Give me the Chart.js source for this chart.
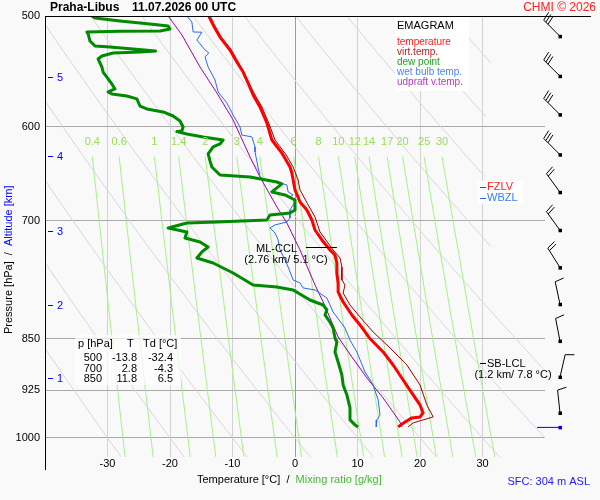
<!DOCTYPE html>
<html>
<head>
<meta charset="utf-8">
<script src="https://cdn.jsdelivr.net/npm/chart.js@4.4.0/dist/chart.umd.min.js"></script>
<style>
  body { margin: 0; background: #f9f9f9; }
  #wrap { width: 600px; height: 500px; }
</style>
</head>
<body>
<div id="wrap"><canvas id="emagram" width="600" height="500"></canvas></div>
<script>
// axis ticks
const pressureTicks = [500, 600, 700, 850, 925, 1000];
const altKm = [1, 2, 3, 4, 5];
const altP = [905.8, 804.2, 711.8, 629.0, 552.9];

// temperature
const tempP = [500, 507.4, 517.6, 528.7, 539.3, 548.2, 558.2, 569.3, 580.6, 596.1, 613.0, 626.2, 640.8, 647.1, 665.4, 678.7, 687.7, 699.1, 710.7, 722.4, 734.4, 740.5, 750.3, 762.7, 775.3, 786.9, 799.9, 817.2, 830.7, 848.7, 868.4, 887.2, 909.3, 931.9, 947.4, 959.9, 966.3, 967.8, 974.2, 982.2];
const tempT = [-13.8, -13.1, -12.0, -10.4, -9.3, -8.3, -7.5, -6.7, -5.6, -4.5, -3.7, -2.1, -0.8, -0.5, 0.0, 0.8, 1.9, 2.7, 3.2, 4.3, 5.6, 6.4, 6.7, 6.7, 6.9, 6.9, 7.7, 9.1, 10.4, 11.9, 14.1, 15.7, 17.3, 18.9, 20.0, 20.5, 20.0, 18.7, 17.6, 16.5];

// virtual temperature
const virtP = [500, 507.4, 517.6, 528.7, 539.3, 548.2, 558.2, 569.3, 580.6, 596.1, 613.0, 628.3, 640.8, 654.6, 665.4, 682.0, 695.6, 713.0, 734.4, 744.1, 755.2, 771.5, 777.9, 788.2, 803.9, 819.9, 840.4, 862.7, 887.2, 916.8, 947.4, 966.3, 971.0, 975.8, 982.2];
const virtT = [-13.6, -12.9, -11.8, -10.2, -9.1, -8.2, -7.4, -6.4, -5.3, -4.2, -3.2, -1.4, -0.3, 0.5, 0.8, 2.1, 3.2, 4.0, 6.1, 7.2, 7.5, 7.5, 8.0, 7.7, 8.8, 10.4, 12.5, 15.2, 17.9, 20.0, 21.1, 22.1, 20.5, 18.9, 18.1];

// dew point
const dewP = [500, 501.6, 504.1, 506.6, 508.3, 510.8, 512.5, 512.7, 513.3, 515.0, 521.0, 525.3, 526.1, 527.8, 529.6, 530.5, 531.3, 534.0, 536.6, 543.7, 548.2, 554.5, 559.1, 563.7, 566.5, 568.3, 570.2, 573.0, 579.7, 582.5, 585.4, 589.3, 594.1, 600.0, 604.0, 604.5, 607.0, 609.9, 613.0, 617.0, 620.0, 627.2, 634.5, 640.8, 649.3, 651.4, 656.8, 658.9, 667.6, 670.9, 676.5, 687.7, 691.1, 693.3, 699.1, 701.4, 702.5, 708.3, 713.0, 720.1, 724.8, 730.8, 736.8, 744.1, 750.3, 762.7, 777.9, 780.4, 784.3, 797.3, 803.9, 810.5, 817.2, 826.7, 834.9, 848.7, 854.3, 868.4, 882.8, 901.9, 916.8, 931.9, 952.1, 971.0, 979.0, 982.2];
const dewT = [-32.5, -32.0, -28.0, -23.2, -20.3, -20.0, -21.6, -28.0, -33.3, -33.1, -32.8, -32.0, -29.6, -25.9, -22.3, -24.8, -29.1, -30.9, -31.5, -30.9, -30.7, -29.9, -29.3, -28.8, -29.9, -29.3, -26.9, -25.3, -24.8, -23.7, -21.1, -19.5, -18.4, -17.9, -18.1, -18.9, -17.3, -14.7, -11.5, -12.0, -13.1, -13.9, -13.6, -13.3, -12.0, -7.2, -2.9, -2.1, -3.7, -1.6, 0.0, 0.0, -0.8, -4.0, -4.5, -12.5, -17.3, -20.3, -17.3, -17.6, -15.2, -13.9, -14.9, -15.7, -13.1, -9.9, -6.7, -2.9, -0.3, 2.4, 4.5, 5.1, 4.8, 5.6, 6.1, 6.4, 6.7, 6.4, 6.9, 7.5, 7.7, 8.3, 8.8, 8.8, 9.6, 10.1];

// wet bulb temperature
const wetP = [500, 505.0, 513.3, 513.5, 520.1, 528.7, 531.3, 534.8, 543.7, 555.4, 566.5, 576.8, 588.3, 600.0, 608.0, 609.9, 620.0, 625.2, 651.4, 654.6, 657.8, 660.0, 667.6, 670.9, 673.1, 678.7, 687.7, 696.8, 701.4, 704.8, 708.3, 714.2, 722.4, 734.4, 746.6, 755.2, 771.5, 775.3, 781.7, 784.3, 794.7, 813.2, 834.9, 851.8, 868.4, 897.4, 916.8, 939.6, 963.1, 971.0, 982.2];
const wetT = [-17.3, -16.5, -16.3, -14.9, -15.7, -14.4, -13.8, -14.4, -13.9, -12.8, -12.3, -10.9, -9.9, -8.8, -8.5, -6.9, -6.4, -6.4, -5.6, -4.8, -2.4, -1.3, -1.1, -0.3, -0.8, 0.0, -0.8, -0.8, -1.3, -3.2, -4.0, -3.2, -2.7, -2.4, -1.6, -1.1, -0.3, 0.8, 1.3, 3.2, 5.1, 6.1, 8.0, 8.8, 9.9, 11.2, 12.5, 13.3, 13.6, 13.1, 13.0];

// updraft virtual temperature
const updP = [500, 515.8, 543.7, 567.4, 593.1, 630.3, 651.4, 684.3, 702.5, 734.4, 777.9, 799.9, 821.2, 847.3, 875.6, 906.3, 936.6, 974.2, 982.2];
const updT = [-20.3, -18.1, -15.2, -12.5, -9.9, -7.2, -5.6, -2.9, -1.3, 0.8, 3.2, 4.5, 5.6, 6.9, 9.1, 11.5, 14.1, 16.8, 17.1];

// background guides
const mixRatios = [0.4, 0.6, 1, 1.4, 2, 3, 4, 6, 8, 10, 12, 14, 17, 20, 25, 30];
const adiabatT1000 = [-30, -20, -10, 0, 10, 20, 30, 40, 50, 60, 70, 80, 90];

// winds
const windP = [517, 552, 588, 628, 668, 711, 756, 803, 853, 905, 960, 983];
const windDir = [315, 315, 315, 315, 324, 324, 328, 348, 349, 13, 354, 270];
const windKt = [30, 30, 30, 30, 20, 20, 20, 10, 10, 10, 10, 2];

// table
const tableP = [500, 700, 850];
const tableT = [-13.8, 2.8, 11.8];
const tableTd = [-32.4, -4.3, 6.5];

const FONT = "'Liberation Sans', Arial, sans-serif";
Chart.defaults.font.family = FONT;

function pts(pArr, tArr) {
  return pArr.map((p, i) => ({ x: tArr[i], y: p }));
}

function mixLine(w) {
  const out = [];
  [630, 700, 800, 900, 1040].forEach(p => {
    const e = w * p / (622 + w);
    const l = Math.log(e / 6.112);
    out.push({ x: 243.5 * l / (17.67 - l), y: p });
  });
  return out;
}

function dryLine(t0) {
  const th = t0 + 273.15;
  const out = [];
  for (let p = 1040; p >= 490; p -= 10) {
    const t = th * Math.pow(p / 1000, 0.286) - 273.15;
    const lim = p < 900 ? 31.5 : 42;
    if (t <= lim) out.push({ x: t, y: p });
  }
  return out;
}

const datasets = [];
function line(data, color, width, order) {
  datasets.push({
    data: data, showLine: true, borderColor: color, borderWidth: width,
    pointRadius: 0, fill: false, order: order, borderJoinStyle: 'round'
  });
}

adiabatT1000.forEach(t => line(dryLine(t), '#d8d8d8', 1, 30));
mixRatios.forEach(w => line(mixLine(w), '#a8f08c', 1, 20));
line(pts(updP, updT), '#a000b0', 1, 5);
line(pts(wetP, wetT), '#2a6af0', 1, 4);
line(pts(dewP, dewT), '#008a00', 3, 3);
line(pts(virtP, virtT), '#a00000', 1, 2);
line(pts(tempP, tempT), '#ff0000', 3, 1);

function txt(ctx, s, x, y, color, font, align) {
  ctx.fillStyle = color;
  ctx.font = font;
  ctx.textAlign = align || 'left';
  ctx.textBaseline = 'middle';
  ctx.fillText(s, x, y);
}

function drawBarb(ctx, x, y, dir, kt, color) {
  const a = dir * Math.PI / 180;
  const ux = Math.sin(a), uy = -Math.cos(a);
  const len = 23;
  const tx = x + ux * len, ty = y + uy * len;
  ctx.strokeStyle = color;
  ctx.lineWidth = 1;
  ctx.beginPath();
  ctx.moveTo(x, y);
  ctx.lineTo(tx, ty);
  const bx = -uy, by = ux;
  let rest = kt, k = 0;
  while (rest >= 10) {
    const sx = tx - ux * k * 3, sy = ty - uy * k * 3;
    ctx.moveTo(sx, sy);
    ctx.lineTo(sx + bx * 9 + ux * 2, sy + by * 9 + uy * 2);
    rest -= 10; k++;
  }
  if (rest >= 5) {
    const sx = tx - ux * k * 3, sy = ty - uy * k * 3;
    ctx.moveTo(sx, sy);
    ctx.lineTo(sx + bx * 5, sy + by * 5);
  }
  ctx.stroke();
  ctx.fillStyle = color;
  ctx.fillRect(x - 1.5, y - 1.5, 3.5, 3.5);
}

const decor = {
  id: 'decor',
  beforeDraw(chart) {
    const ctx = chart.ctx;
    ctx.save();
    ctx.fillStyle = '#f9f9f9';
    ctx.fillRect(0, 0, chart.width, chart.height);
    ctx.restore();
  },
  afterDraw(chart) {
    const ctx = chart.ctx;
    const xs = chart.scales.x, ys = chart.scales.y;
    const ca = chart.chartArea;
    ctx.save();

    // frame lines
    ctx.strokeStyle = '#000';
    ctx.lineWidth = 1;
    ctx.beginPath();
    ctx.moveTo(ca.left, ca.top + 0.5);
    ctx.lineTo(591, ca.top + 0.5);
    ctx.moveTo(ca.left + 0.5, ca.top);
    ctx.lineTo(ca.left + 0.5, 470);
    ctx.stroke();

    // mixing ratio labels
    mixRatios.forEach(w => {
      const e = w * 630 / (622 + w);
      const l = Math.log(e / 6.112);
      const x = xs.getPixelForValue(243.5 * l / (17.67 - l));
      txt(ctx, String(w), x, 142, '#99dd55', '11px ' + FONT, 'center');
    });

    // altitude ticks
    altKm.forEach((k, i) => {
      const y = Math.round(ys.getPixelForValue(altP[i])) + 0.5;
      ctx.strokeStyle = '#0000ff';
      ctx.beginPath();
      ctx.moveTo(ca.left + 3, y);
      ctx.lineTo(ca.left + 8, y);
      ctx.stroke();
      txt(ctx, String(k), ca.left + 12, y, '#0000ff', '11px ' + FONT, 'left');
    });

    // title
    txt(ctx, 'Praha-Libus', 50, 8, '#000', 'bold 12px ' + FONT);
    txt(ctx, '11.07.2026 00 UTC', 132, 8, '#000', 'bold 12px ' + FONT);
    txt(ctx, 'CHMI \u00a9 2026', 596, 8, '#ff2020', '12px ' + FONT, 'right');

    // axis titles
    ctx.save();
    ctx.translate(9, 334);
    ctx.rotate(-Math.PI / 2);
    ctx.font = '11px ' + FONT;
    const part1 = 'Pressure [hPa]  /  ';
    txt(ctx, part1, 0, 0, '#000', '11px ' + FONT);
    const w1 = ctx.measureText(part1).width;
    txt(ctx, 'Altitude [km]', w1, 0, '#0000ff', '11px ' + FONT);
    ctx.restore();

    ctx.font = '11px ' + FONT;
    const xt1 = 'Temperature [\u00b0C]  /  ';
    txt(ctx, xt1, 197, 480, '#000', '11px ' + FONT);
    const wx = ctx.measureText(xt1).width;
    txt(ctx, 'Mixing ratio [g/kg]', 197 + wx, 480, '#44bb33', '11px ' + FONT);
    txt(ctx, 'SFC: 304 m ASL', 590, 482, '#2020ff', '11px ' + FONT, 'right');

    // legend box
    ctx.fillStyle = '#ffffff';
    ctx.fillRect(395, 17, 74, 74);
    txt(ctx, 'EMAGRAM', 397, 26, '#000', '11px ' + FONT);
    const legNames = ['temperature', 'virt.temp.', 'dew point', 'wet bulb temp.', 'udpraft v.temp.'];
    const legCols = ['#ff2020', '#b22222', '#22a022', '#4a86f0', '#b040c0'];
    legNames.forEach((n, i) => txt(ctx, n, 397, 42 + i * 10, legCols[i], '10px ' + FONT));

    // freezing level labels
    ctx.fillStyle = '#ffffff';
    ctx.fillRect(478, 181, 45, 23);
    ctx.strokeStyle = '#ff0000';
    ctx.beginPath(); ctx.moveTo(480, 187.5); ctx.lineTo(486, 187.5); ctx.stroke();
    txt(ctx, 'FZLV', 487, 187, '#ff2020', '11px ' + FONT);
    ctx.strokeStyle = '#2a6af0';
    ctx.beginPath(); ctx.moveTo(480, 198.5); ctx.lineTo(486, 198.5); ctx.stroke();
    txt(ctx, 'WBZL', 487, 198, '#3a7af0', '11px ' + FONT);

    // CCL
    const cy = Math.round(ys.getPixelForValue(731)) + 0.5;
    const cx = xs.getPixelForValue(5.1);
    ctx.strokeStyle = '#000';
    ctx.beginPath(); ctx.moveTo(cx - 21, cy); ctx.lineTo(cx + 10, cy); ctx.stroke();
    txt(ctx, 'ML-CCL', 297, 249, '#000', '11px ' + FONT, 'right');
    txt(ctx, '(2.76 km/ 5.1 \u00b0C)', 286, 260, '#000', '11px ' + FONT, 'center');

    // LCL
    const ly = Math.round(ys.getPixelForValue(884)) + 0.5;
    ctx.beginPath(); ctx.moveTo(480, ly); ctx.lineTo(486, ly); ctx.stroke();
    txt(ctx, 'SB-LCL', 487, ly, '#000', '11px ' + FONT);
    txt(ctx, '(1.2 km/ 7.8 \u00b0C)', 513, ly + 11, '#000', '11px ' + FONT, 'center');

    // table
    ctx.fillStyle = 'rgba(255,255,255,0.7)';
    ctx.fillRect(75, 335, 106, 50);
    txt(ctx, 'p [hPa]', 78, 344, '#000', '11px ' + FONT);
    txt(ctx, 'T', 127, 344, '#000', '11px ' + FONT);
    txt(ctx, 'Td [\u00b0C]', 143, 344, '#000', '11px ' + FONT);
    tableP.forEach((p, i) => {
      const y = 358 + i * 10.5;
      txt(ctx, String(p), 102, y, '#000', '11px ' + FONT, 'right');
      txt(ctx, tableT[i].toFixed(1), 137, y, '#000', '11px ' + FONT, 'right');
      txt(ctx, tableTd[i].toFixed(1), 173, y, '#000', '11px ' + FONT, 'right');
    });

    // wind barbs
    windP.forEach((p, i) => {
      const y = ys.getPixelForValue(p);
      const sfc = i === windP.length - 1;
      drawBarb(ctx, 560, y, windDir[i], windKt[i], sfc ? '#0000ff' : '#000');
    });

    ctx.restore();
  }
};

new Chart(document.getElementById('emagram'), {
  type: 'scatter',
  data: { datasets: datasets },
  options: {
    responsive: false,
    animation: false,
    devicePixelRatio: 1,
    layout: { padding: { top: 16, right: 55, left: 0, bottom: 0 } },
    plugins: { legend: { display: false }, tooltip: { enabled: false } },
    scales: {
      x: {
        type: 'linear', min: -40, max: 40,
        afterFit(s) { s.height = 43; },
        ticks: {
          stepSize: 10, padding: 0, color: '#000', font: { size: 11 },
          callback: v => (v === -40 || v === 40) ? '' : v
        },
        grid: {
          drawTicks: false,
          color: c => {
            const v = c.tick ? c.tick.value : null;
            if (v === -40 || v === 40) return 'rgba(0,0,0,0)';
            return v === 0 ? '#9a9a9a' : '#d2d2d2';
          }
        },
        border: { display: false }
      },
      y: {
        type: 'logarithmic', reverse: true, min: 500, max: 1032,
        afterFit(s) { s.width = 45; },
        afterBuildTicks(s) { s.ticks = pressureTicks.map(v => ({ value: v })); },
        ticks: { padding: 5, color: '#000', font: { size: 11 }, autoSkip: false, callback: v => String(v) },
        grid: { drawTicks: false, color: '#a9a9a9' },
        border: { display: false }
      }
    }
  },
  plugins: [decor]
});
</script>
</body>
</html>
